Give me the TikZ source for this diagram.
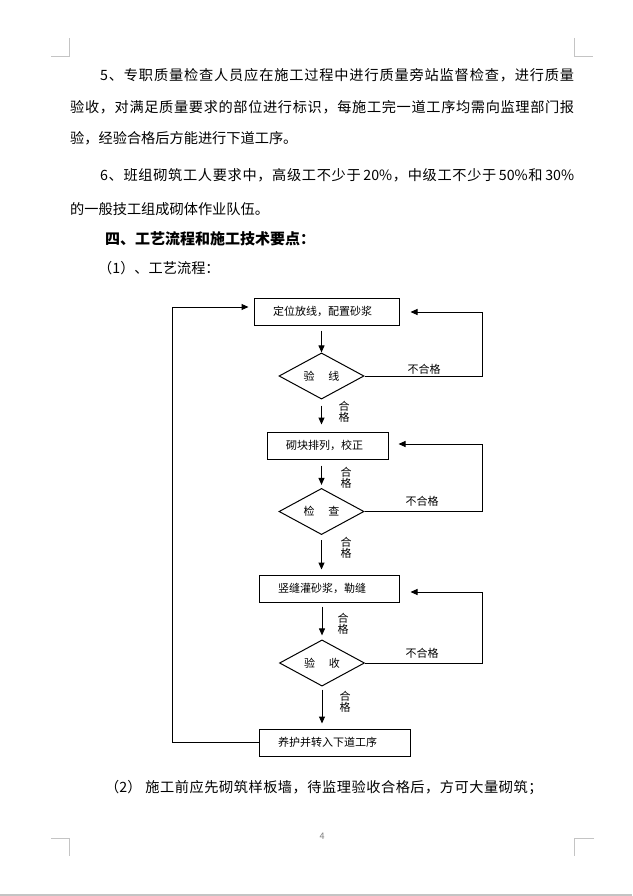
\documentclass[tikz,border=0pt]{standalone}
\usepackage{fontspec}
\setmainfont{Noto Sans CJK SC}
\usetikzlibrary{shapes.geometric,arrows.meta}
\ExplSyntaxOn
\NewDocumentCommand\spreadline{mm}{\makebox[#1][s]{\tl_map_inline:nn{#2}{##1\hfil}\unskip}}
\ExplSyntaxOff
\definecolor{markgray}{HTML}{C4C4C4}
\definecolor{pagegray}{HTML}{808080}
\begin{document}
\begin{tikzpicture}[x=1pt,y=-1pt,
  txt/.style={anchor=west,inner sep=0pt,font=\fontsize{14.2}{17}\selectfont},
  headtxt/.style={anchor=west,inner sep=0pt,font=\fontsize{15}{18}\selectfont\bfseries},
  boxnode/.style={draw,line width=1pt,minimum height=27pt,inner ysep=0pt,inner xsep=19pt,align=left,font=\fontsize{11}{13}\selectfont},
  dia/.style={draw,line width=1pt,diamond,minimum width=85pt,minimum height=36pt,inner sep=0pt,font=\fontsize{11}{13}\selectfont},
  lab/.style={inner sep=0pt,font=\fontsize{11}{13}\selectfont},
  vlab/.style={inner sep=0pt,align=center,font=\fontsize{11}{11.5}\selectfont},
  arr/.style={line width=1pt,-{Triangle[length=7pt,width=6pt]}},
  conn/.style={line width=1pt},
  cmark/.style={draw=markgray,line width=1pt}
]
\useasboundingbox (0,0) rectangle (632,896);
\fill[white] (0,0) rectangle (632,896);
% corner marks and page edge
\draw[cmark] (51,57) -- (69,57) -- (69,38);
\draw[cmark] (574,38) -- (574,57) -- (593,57);
\draw[cmark] (51,838) -- (69,838) -- (69,856);
\draw[cmark] (594,838) -- (574,838) -- (574,856);
\draw[draw=markgray,line width=1.5pt] (0,895) -- (632,895);
% text
\node[txt] (p1) at (100,75) {\spreadline{474pt}{5、专职质量检查人员应在施工过程中进行质量旁站监督检查，进行质量}};
\node[txt] (p2) at (70,107) {\spreadline{504pt}{验收，对满足质量要求的部位进行标识，每施工完一道工序均需向监理部门报}};
\node[txt] (p3) at (70,138) {验，经验合格后方能进行下道工序。};
\node[txt] (p4) at (100,175) {\spreadline{474pt}{6、班组砌筑工人要求中，高级工不少于{\kern2pt 20\%}，中级工不少于{\kern2pt 50\%}和{\kern2pt 30\%}}};
\node[txt] (p5) at (70,209) {的一般技工组成砌体作业队伍。};
\node[headtxt] (h1) at (105,239) {四、工艺流程和施工技术要点：};
\node[txt] (p6) at (98,268) {（1）、工艺流程：};
\node[txt] (p7) at (105,788) {（2）\hspace{4pt}\spreadline{397pt}{施工前应先砌筑样板墙，待监理验收合格后，方可大量砌筑；}};
\node[inner sep=0pt,text=pagegray,font=\fontsize{9}{10}\selectfont] (pg) at (322,836) {4};
% flowchart
\node[boxnode,text width=107pt] (b1) at (326.5,311.5) {定位放线，配置砂浆};
\node[dia] (d1) at (321.5,376) {验\hspace{14pt}线};
\node[boxnode,text width=83pt] (b2) at (327.5,445.5) {砌块排列，校正};
\node[dia] (d2) at (321.5,511.5) {检\hspace{14pt}查};
\node[boxnode,text width=102pt] (b3) at (329,588.5) {竖缝灌砂浆，勒缝};
\node[dia] (d3) at (322,663) {验\hspace{14pt}收};
\node[boxnode,text width=113pt] (b4) at (334.5,742.5) {养护并转入下道工序};
% down arrows
\draw[arr,shorten <=5pt] (b1.south -| d1.north) -- (d1.north);
\draw[arr,shorten <=6pt,shorten >=7pt] (d1.south) -- (d1.south |- b2.north);
\draw[arr,shorten <=6pt,shorten >=3pt] (d2.north |- b2.south) -- (d2.north);
\draw[arr,shorten <=5pt,shorten >=5pt] (d2.south) -- (d2.south |- b3.north);
\draw[arr,shorten <=4pt,shorten >=4pt] (d3.north |- b3.south) -- (d3.north);
\draw[arr,shorten <=3pt,shorten >=5pt] (d3.south) -- (d3.south |- b4.north);
% pass labels
\node[vlab] (g1) at (344,412) {合\\格};
\node[vlab] (g2) at (346,478) {合\\格};
\node[vlab] (g3) at (346,548) {合\\格};
\node[vlab] (g4) at (343,624) {合\\格};
\node[vlab] (g5) at (345,702) {合\\格};
% feedback loops
\coordinate (r1) at (482,312);
\coordinate (r2) at (482,444);
\coordinate (r3) at (482,592);
\draw[arr,shorten >=11pt] (d1.east) -| (r1) -- (b1.east |- r1);
\draw[arr,shorten >=10pt] (d2.east) -| (r2) -- (b2.east |- r2);
\draw[arr,shorten >=11pt] (d3.east) -| (r3) -- (b3.east |- r3);
\node[lab] (f1) at (424,369) {不合格};
\node[lab] (f2) at (422,501) {不合格};
\node[lab] (f3) at (422,653) {不合格};
% left return loop
\coordinate (l1) at (172,307);
\draw[arr,shorten >=5pt] (b4.west) -| (l1) -- (b1.west |- l1);
\end{tikzpicture}
\end{document}
